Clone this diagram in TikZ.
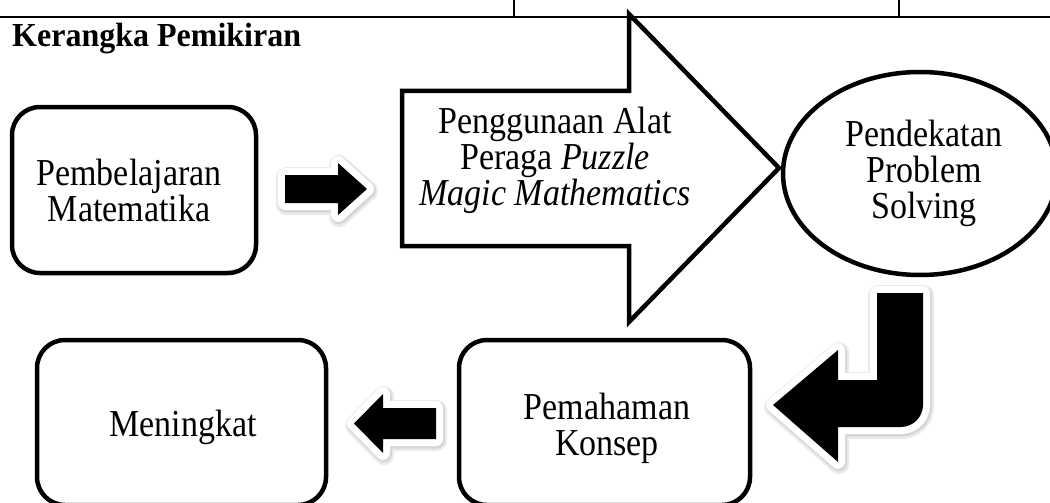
\documentclass[tikz,border=0pt]{standalone}
\usepackage{fontspec}
\setmainfont{Liberation Serif}
\usetikzlibrary{shapes.geometric}
\begin{document}
\begin{tikzpicture}[x=1pt,y=-1pt,
  box/.style={draw, line width=4.5pt, rounded corners=28pt, inner sep=0pt},
  lbl/.style={font=\fontsize{34}{32}\selectfont, align=center, inner sep=0pt, yscale=1.12, anchor=base},
  sh1/.style={draw=black!8, fill=black!8, line width=20pt, line join=round, xshift=1pt, yshift=-2pt},
  sh2/.style={draw=black!16, fill=black!16, line width=16pt, line join=round, xshift=1pt, yshift=-1.5pt},
  wh/.style={draw=white, fill=white, line width=14pt, line join=round},
  bk/.style={fill=black}]
\useasboundingbox (0,0) rectangle (1050,503);
\clip (0,0) rectangle (1050,503);
% table lines
\coordinate (L) at (0,17);
\coordinate (R) at (1050,17);
\draw[line width=2.2pt] (L) -- (R);
\draw[line width=1.2pt] (514,0) -- (514,17);
\draw[line width=1.2pt] (899,0) -- (899,17);
% title
\node[font=\bfseries\fontsize{32}{36}\selectfont, anchor=base west, inner sep=0pt, yscale=1.05] (title) at (12,47) {Kerangka Pemikiran};
% boxes
\node[box, minimum width=244pt, minimum height=166pt] (b1) at (134,190) {};
\node[box, minimum width=289pt, minimum height=165pt] (b5) at (181.5,422.5) {};
\node[box, minimum width=291pt, minimum height=165pt] (b4) at (604.5,422.5) {};
\node[draw, ellipse, line width=4.5pt, minimum width=274pt, minimum height=203pt, inner sep=0pt] (e3) at (920,173.5) {};
% big outlined arrow
\draw[line width=4.5pt, miter limit=10] (402,91) -- (629,91) -- (629,14) -- (779,168) -- (629,322) -- (629,246) -- (402,246) -- cycle;
% small right arrow
\foreach \st in {sh1,sh2,wh,bk}
  \path[\st] (285,175) -- (338,175) -- (338,163) -- (367,189) -- (338,215) -- (338,203) -- (285,203) -- cycle;
% small left arrow
\foreach \st in {sh1,sh2,wh,bk}
  \path[\st] (436,408) -- (383,408) -- (383,394) -- (354,423.5) -- (383,453) -- (383,439) -- (436,439) -- cycle;
% bent arrow
\foreach \st in {sh1,sh2,wh,bk}
  \path[\st] (877,293) -- (923,293) -- (923,405) .. controls (923,417.1) and (912.9,427) .. (901,427) -- (838,427) -- (838,462) -- (773,405) -- (838,350) -- (838,380) -- (877,380) -- cycle;
% texts (base anchor = baseline of last line)
\node[lbl] (t1) at (129,221) {Pembelajaran\\Matematika};
\node[lbl] (t2) at (555,205) {Penggunaan Alat\\Peraga \textit{Puzzle}\\\textit{Magic Mathematics}};
\node[lbl] (t3) at (924,218) {Pendekatan\\Problem\\Solving};
\node[lbl] (t4) at (607,455) {Pemahaman\\Konsep};
\node[lbl] (t5) at (183,436) {Meningkat};
\end{tikzpicture}
\end{document}
